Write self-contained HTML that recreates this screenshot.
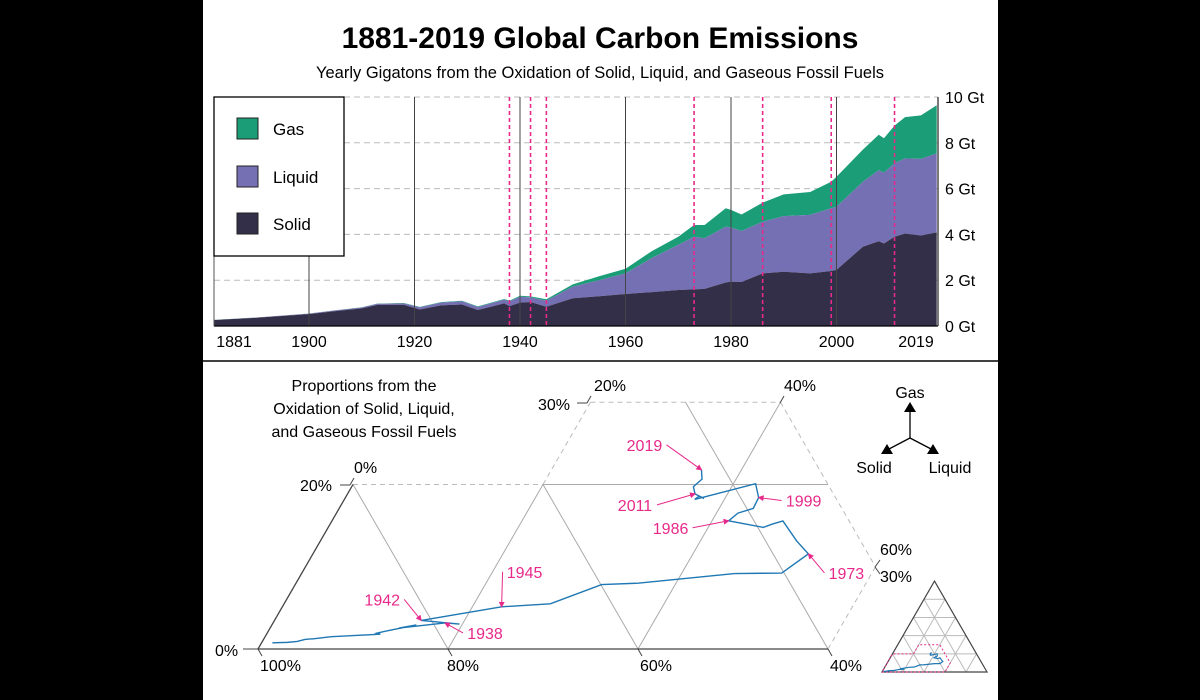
<!DOCTYPE html>
<html><head><meta charset="utf-8">
<style>
body{margin:0;background:#000;width:1200px;height:700px;overflow:hidden;font-family:"Liberation Sans",sans-serif}
svg{display:block}
text{font-family:"Liberation Sans",sans-serif}
</style></head>
<body>
<svg id="c" width="1200" height="700" viewBox="0 0 1200 700">
<rect x="203" y="0" width="795" height="700" fill="#fff"/>
<text x="600" y="48" text-anchor="middle" font-size="30" font-weight="bold">1881-2019 Global Carbon Emissions</text>
<text x="600" y="78" text-anchor="middle" font-size="16.5">Yearly Gigatons from the Oxidation of Solid, Liquid, and Gaseous Fossil Fuels</text>
<g id="topchart"></g>
<line x1="203" y1="361" x2="998" y2="361" stroke="#000" stroke-width="1.5"/>
<g id="tern"></g>
</svg>
<script>
const years=[1882,1890,1900,1905,1910,1913,1918,1921,1925,1929,1932,1937,1938,1940,1942,1945,1950,1955,1960,1965,1970,1973,1975,1979,1980,1982,1986,1990,1995,1999,2000,2005,2008,2009,2011,2013,2016,2019];
const solid=[0.26,0.36,0.52,0.65,0.77,0.92,0.92,0.72,0.90,0.94,0.70,0.99,0.87,1.02,1.05,0.84,1.21,1.30,1.40,1.48,1.57,1.60,1.62,1.90,1.94,1.92,2.30,2.37,2.30,2.40,2.45,3.46,3.70,3.60,3.90,4.04,3.95,4.09];
const liquid=[0.003,0.01,0.02,0.03,0.04,0.05,0.07,0.10,0.12,0.14,0.13,0.16,0.20,0.26,0.20,0.27,0.51,0.70,0.90,1.49,1.97,2.30,2.21,2.44,2.36,2.23,2.25,2.43,2.55,2.74,2.76,2.84,3.10,3.10,3.20,3.28,3.35,3.45];
const gas=[0.002,0.003,0.005,0.008,0.01,0.012,0.015,0.015,0.02,0.025,0.025,0.03,0.035,0.04,0.045,0.06,0.10,0.17,0.20,0.30,0.36,0.51,0.58,0.80,0.77,0.72,0.84,0.95,1.00,1.16,1.31,1.40,1.55,1.50,1.65,1.80,1.90,2.10];
const yTicks=[0,2,4,6,8,10];
const yTickLabels=["0 Gt","2 Gt","4 Gt","6 Gt","8 Gt","10 Gt"];
const decadeLines=[1900,1920,1940,1960,1980,2000];
const xTickYears=[1881,1900,1920,1940,1960,1980,2000,2019];
const eventYears=[1938,1942,1945,1973,1986,1999,2011];
const annotYears=[2019,2011,1999,1986,1973,1945,1942,1938];
const annotOffsets=[[-57,-20],[-60,16],[45,8],[-58,12],[38,24],[23,-30],[-39,-16],[40,15]];

const NS="http://www.w3.org/2000/svg";
function mk(tag,attrs,parent,txt){const e=document.createElementNS(NS,tag);for(const k in attrs)e.setAttribute(k,attrs[k]);if(txt!==undefined)e.textContent=txt;parent.appendChild(e);return e;}
const X=yr=>309+(yr-1900)*5.275;
const Y=v=>326-v*22.9;
const topG=document.getElementById('topchart');

yTicks.forEach((t,i)=>{
  if(t>0){const g=mk('line',{x1:214,x2:938,y1:Y(t),y2:Y(t),stroke:'#bbb','stroke-dasharray':'6,4','stroke-width':1},topG);
  
  }
  const l=mk('text',{x:945,y:Y(t)+6,'font-size':16},topG,yTickLabels[i]);
  
  
});
function area(lowF,highF,color,name){
  let d='M'+X(years[0])+','+Y(highF(0));
  for(let i=1;i<years.length;i++)d+='L'+X(years[i])+','+Y(highF(i));
  for(let i=years.length-1;i>=0;i--)d+='L'+X(years[i])+','+Y(lowF(i));
  const p=mk('path',{d:d+'Z',fill:color},topG);
  
  
}
area(i=>solid[i]+liquid[i],i=>solid[i]+liquid[i]+gas[i],'#1b9e77','gas-area');
area(i=>solid[i],i=>solid[i]+liquid[i],'#7570b3','liquid-area');
area(i=>0,i=>solid[i],'#332f48','solid-area');
decadeLines.forEach(yr=>{
  const l=mk('line',{x1:X(yr),x2:X(yr),y1:yr==1900?256:97,y2:326,stroke:'#444','stroke-width':1},topG);
  
  
});
eventYears.forEach(yr=>{
  const l=mk('line',{x1:X(yr),x2:X(yr),y1:97,y2:326,stroke:'#e7298a','stroke-width':1.6,'stroke-dasharray':'4,3'},topG);
  
  
});
xTickYears.forEach(yr=>{
  let x=X(yr); if(yr==1881)x=234; if(yr==2019)x=916;
  const t=mk('text',{x:x,y:347,'text-anchor':'middle','font-size':16},topG,String(yr));
  
  
});
const xa=mk('line',{x1:214,x2:938,y1:326,y2:326,stroke:'#000','stroke-width':1.2},topG);


const le=mk('line',{x1:214,x2:214,y1:97,y2:326,stroke:'#555','stroke-width':1},topG);


const re=mk('line',{x1:938,x2:938,y1:97,y2:326,stroke:'#222','stroke-width':1.2},topG);


const lg=mk('g',{},topG);


mk('rect',{x:214,y:97,width:130,height:159,fill:'#fff',stroke:'#000','stroke-width':1.3},lg);
[['Gas','#1b9e77',118],['Liquid','#7570b3',166],['Solid','#332f48',213]].forEach(([n,c,y])=>{
  const g=mk('g',{},lg);
  
  
  mk('rect',{x:237,y:y,width:21,height:21,fill:c,stroke:'#222','stroke-width':1},g);
  mk('text',{x:273,y:y+17,'font-size':17},g,n);
});

const tern=document.getElementById('tern');
const TX=(L,G)=>258+L*9.5+G*4.75;
const TY=G=>649-G*8.227;
function seg(a,b,st,name){const l=mk('line',Object.assign({x1:TX(a[0],a[1]),y1:TY(a[1]),x2:TX(b[0],b[1]),y2:TY(b[1])},st),tern);
  
  }
const gray={stroke:'#aaa','stroke-width':1};
const dash={stroke:'#bbb','stroke-width':1,'stroke-dasharray':'5,4'};
seg([0,20],[20,20],dash,'boundary-gas-20');
seg([20,20],[20,30],dash,'boundary-liquid-20');
seg([20,30],[40,30],dash,'boundary-gas-30');
seg([40,30],[60,10],dash,'boundary-solid-30');
seg([60,10],[60,0],dash,'boundary-liquid-60');
seg([20,20],[50,20],gray,'grid-gas-20');
seg([20,0],[0,20],gray,'grid-solid-80');
seg([20,0],[20,20],gray,'grid-liquid-20');
seg([40,0],[20,20],gray,'grid-solid-60');
seg([40,0],[40,30],gray,'grid-liquid-40');
seg([60,0],[30,30],gray,'grid-solid-40');
seg([0,0],[60,0],{stroke:'#444','stroke-width':1.3},'axis-gas-0');
seg([0,0],[0,20],{stroke:'#444','stroke-width':1.3},'axis-liquid-0');
const tl=[["0%",215,656,'start'],["100%",260,671,'start'],["80%",447,671,'start'],["60%",640,671,'start'],["40%",830,671,'start'],
 ["20%",300,491,'start'],["0%",354,473,'start'],["30%",538,410,'start'],["20%",594,391,'start'],["40%",784,391,'start'],["60%",880,555,'start'],["30%",880,582,'start']];
tl.forEach(([t,x,y,a])=>{const e=mk('text',{x:x,y:y,'font-size':16,'text-anchor':a},tern,t);
  
  });
[[243,649,258,649],[258,649,262,656],[448,649,452,656],[638,649,642,656],[828,649,832,656],[340,485,350,485],[350,485,354,478],[577,403,587,403],[587,403,591,396],[780,403,784,396],[875,567,880,560],[875,567,880,574]].forEach(s=>{
  const l=mk('line',{x1:s[0],y1:s[1],x2:s[2],y2:s[3],stroke:'#444','stroke-width':1},tern);
  
  });
['Proportions from the','Oxidation of Solid, Liquid,','and Gaseous Fossil Fuels'].forEach((t,i)=>{
  const e=mk('text',{x:364,y:391+i*23,'font-size':16,'text-anchor':'middle'},tern,t);
  
  });
const props=years.map((y,i)=>{const T=solid[i]+liquid[i]+gas[i];return [liquid[i]/T*100,gas[i]/T*100];});
const path=mk('polyline',{points:props.map(p=>TX(p[0],p[1])+','+TY(p[1])).join(' '),fill:'none',stroke:'#1f78b4','stroke-width':1.4},tern);


const defs=mk('defs',{},tern);
const mar=mk('marker',{id:'ah',markerWidth:6,markerHeight:6,refX:5,refY:3,orient:'auto'},defs);
mk('path',{d:'M0,0L6,3L0,6Z',fill:'#e7298a'},mar);
annotYears.forEach((yr,k)=>{
  const i=years.indexOf(yr);const p=props[i];
  const px=TX(p[0],p[1]),py=TY(p[1]);
  const [dx,dy]=annotOffsets[k];
  const lx=px+dx,ly=py+dy;
  const a=mk('line',{x1:lx+(dx<0?22:-22),y1:ly-5,x2:px,y2:py,stroke:'#e7298a','stroke-width':1,'marker-end':'url(#ah)'},tern);
  
  
  const t=mk('text',{x:lx,y:ly+1,'font-size':16,fill:'#e7298a','text-anchor':'middle'},tern,String(yr));
  
  
});
const key=mk('g',{},tern);


mk('line',{x1:910,y1:438,x2:910,y2:412,stroke:'#000','stroke-width':1.3},key);
mk('line',{x1:910,y1:438,x2:887,y2:450,stroke:'#000','stroke-width':1.3},key);
mk('line',{x1:910,y1:438,x2:933,y2:450,stroke:'#000','stroke-width':1.3},key);
mk('path',{d:'M904,412L916,412L910,402Z'},key);
mk('path',{d:'M881,454L893,454L887,444Z'},key);
mk('path',{d:'M927,454L939,454L933,444Z'},key);
mk('text',{x:910,y:398,'font-size':16,'text-anchor':'middle'},key,'Gas');
mk('text',{x:874,y:473,'font-size':16,'text-anchor':'middle'},key,'Solid');
mk('text',{x:950,y:473,'font-size':16,'text-anchor':'middle'},key,'Liquid');
const ins=mk('g',{},tern);


const IX=(L,G)=>882+(L+G/2)*1.05, IY=G=>672-G*1.05*0.866;
for(let k=1;k<5;k++){const v=k*20;
  mk('line',{x1:IX(0,v),y1:IY(v),x2:IX(100-v,v),y2:IY(v),stroke:'#bbb'},ins);
  mk('line',{x1:IX(v,0),y1:IY(0),x2:IX(v,100-v),y2:IY(100-v),stroke:'#bbb'},ins);
  mk('line',{x1:IX(v,0),y1:IY(0),x2:IX(0,v),y2:IY(v),stroke:'#bbb'},ins);}
mk('path',{d:`M${IX(0,0)},${IY(0)}L${IX(100,0)},${IY(0)}L${IX(0,100)},${IY(100)}Z`,fill:'none',stroke:'#444','stroke-width':1.2},ins);
const reg=[[0,0],[60,0],[60,10],[40,30],[20,30],[20,20],[0,20]];
mk('polygon',{points:reg.map(p=>IX(p[0],p[1])+','+IY(p[1])).join(' '),fill:'none',stroke:'#e7298a','stroke-width':1,'stroke-dasharray':'2,2'},ins);
mk('polyline',{points:props.map(p=>IX(p[0],p[1])+','+IY(p[1])).join(' '),fill:'none',stroke:'#1f78b4','stroke-width':1.2},ins);
</script>
</body></html>
